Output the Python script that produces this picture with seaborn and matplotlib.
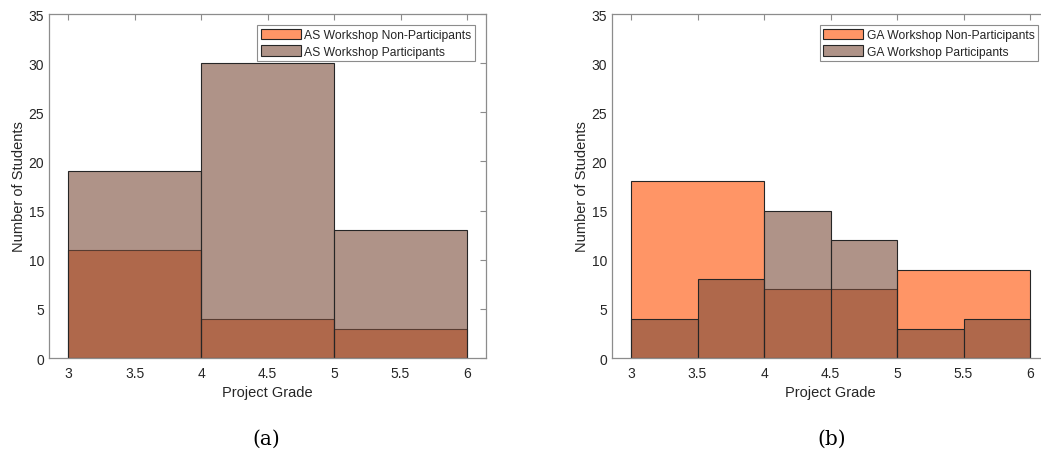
import pandas as pd
import matplotlib
matplotlib.use("Agg")
import matplotlib.pyplot as plt
import seaborn as sns
from matplotlib.patches import Patch

# Histogram data (bin edges and counts)
as_edges = [3, 4, 5, 6]
as_non_participants = [11, 4, 3]
as_participants = [19, 30, 13]

ga_non_edges = [3, 4, 5, 6]
ga_non_participants = [18, 7, 9]
ga_part_edges = [3, 3.5, 4, 4.5, 5, 5.5, 6]
ga_participants = [4, 8, 15, 12, 3, 4]

x_ticks = [3, 3.5, 4, 4.5, 5, 5.5, 6]
y_ticks = [0, 5, 10, 15, 20, 25, 30, 35]

orange = (1.0, 0.306, 0.0)
brown = (0.482, 0.294, 0.224)
alpha = 0.6
edge = "#262626"
axis_gray = "#8c8c8c"
text_gray = "#262626"


# Draw one histogram from pre-binned counts
def draw_hist(ax, edges, counts, color):
    centers = [(a + b) / 2 for a, b in zip(edges[:-1], edges[1:])]
    df = pd.DataFrame({"grade": centers, "n": counts})
    sns.histplot(data=df, x="grade", weights="n", bins=list(edges), ax=ax,
                 color=color, alpha=alpha, edgecolor=edge, linewidth=0.8)


# MATLAB-like axes styling
def style_axes(ax, legend_labels):
    ax.set_xlim(2.857, 6.143)
    ax.set_ylim(0, 35)
    ax.set_xticks(x_ticks)
    ax.set_xticklabels([f"{t:g}" for t in x_ticks])
    ax.set_yticks(y_ticks)
    ax.tick_params(direction="in", top=True, right=True, length=4,
                   color=axis_gray, labelsize=10, labelcolor=text_gray)
    ax.tick_params(axis="x", pad=6)
    ax.tick_params(axis="y", pad=3.5)
    for s in ax.spines.values():
        s.set_color(axis_gray)
        s.set_linewidth(0.9)
    ax.set_xlabel("Project Grade", fontsize=10.5, color=text_gray, labelpad=3)
    ax.set_ylabel("Number of Students", fontsize=10.5, color=text_gray, labelpad=2)
    handles = [Patch(facecolor=(*orange, alpha), edgecolor=edge, linewidth=0.8),
               Patch(facecolor=(*brown, alpha), edgecolor=edge, linewidth=0.8)]
    leg = ax.legend(handles, legend_labels, loc="upper right", fontsize=8.7,
                    fancybox=False, framealpha=1, edgecolor=axis_gray,
                    handlelength=3.3, handleheight=1.0, handletextpad=0.3,
                    borderpad=0.3, labelspacing=0.33, borderaxespad=0.9)
    leg.get_frame().set_linewidth(0.8)


def main():
    sns.set_style("white")
    plt.rcParams["font.family"] = ["Liberation Sans", "DejaVu Sans"]

    fig = plt.figure(figsize=(10.41, 4.56), dpi=100)
    ax1 = fig.add_axes([0.0471, 0.2127, 0.4198, 0.7544])
    ax2 = fig.add_axes([0.5879, 0.2127, 0.4198, 0.7544])

    # (a) AS workshop
    draw_hist(ax1, as_edges, as_non_participants, orange)
    draw_hist(ax1, as_edges, as_participants, brown)
    style_axes(ax1, ["AS Workshop Non-Participants", "AS Workshop Participants"])

    # (b) GA workshop
    draw_hist(ax2, ga_non_edges, ga_non_participants, orange)
    draw_hist(ax2, ga_part_edges, ga_participants, brown)
    style_axes(ax2, ["GA Workshop Non-Participants", "GA Workshop Participants"])

    # subfigure captions
    fig.text(0.2555, 0.037, "(a)", ha="center", va="center", fontsize=14.5,
             family=["DejaVu Serif"], color="black")
    fig.text(0.799, 0.037, "(b)", ha="center", va="center", fontsize=14.5,
             family=["DejaVu Serif"], color="black")

    fig.savefig("out.png", dpi=100)


if __name__ == "__main__":
    main()
